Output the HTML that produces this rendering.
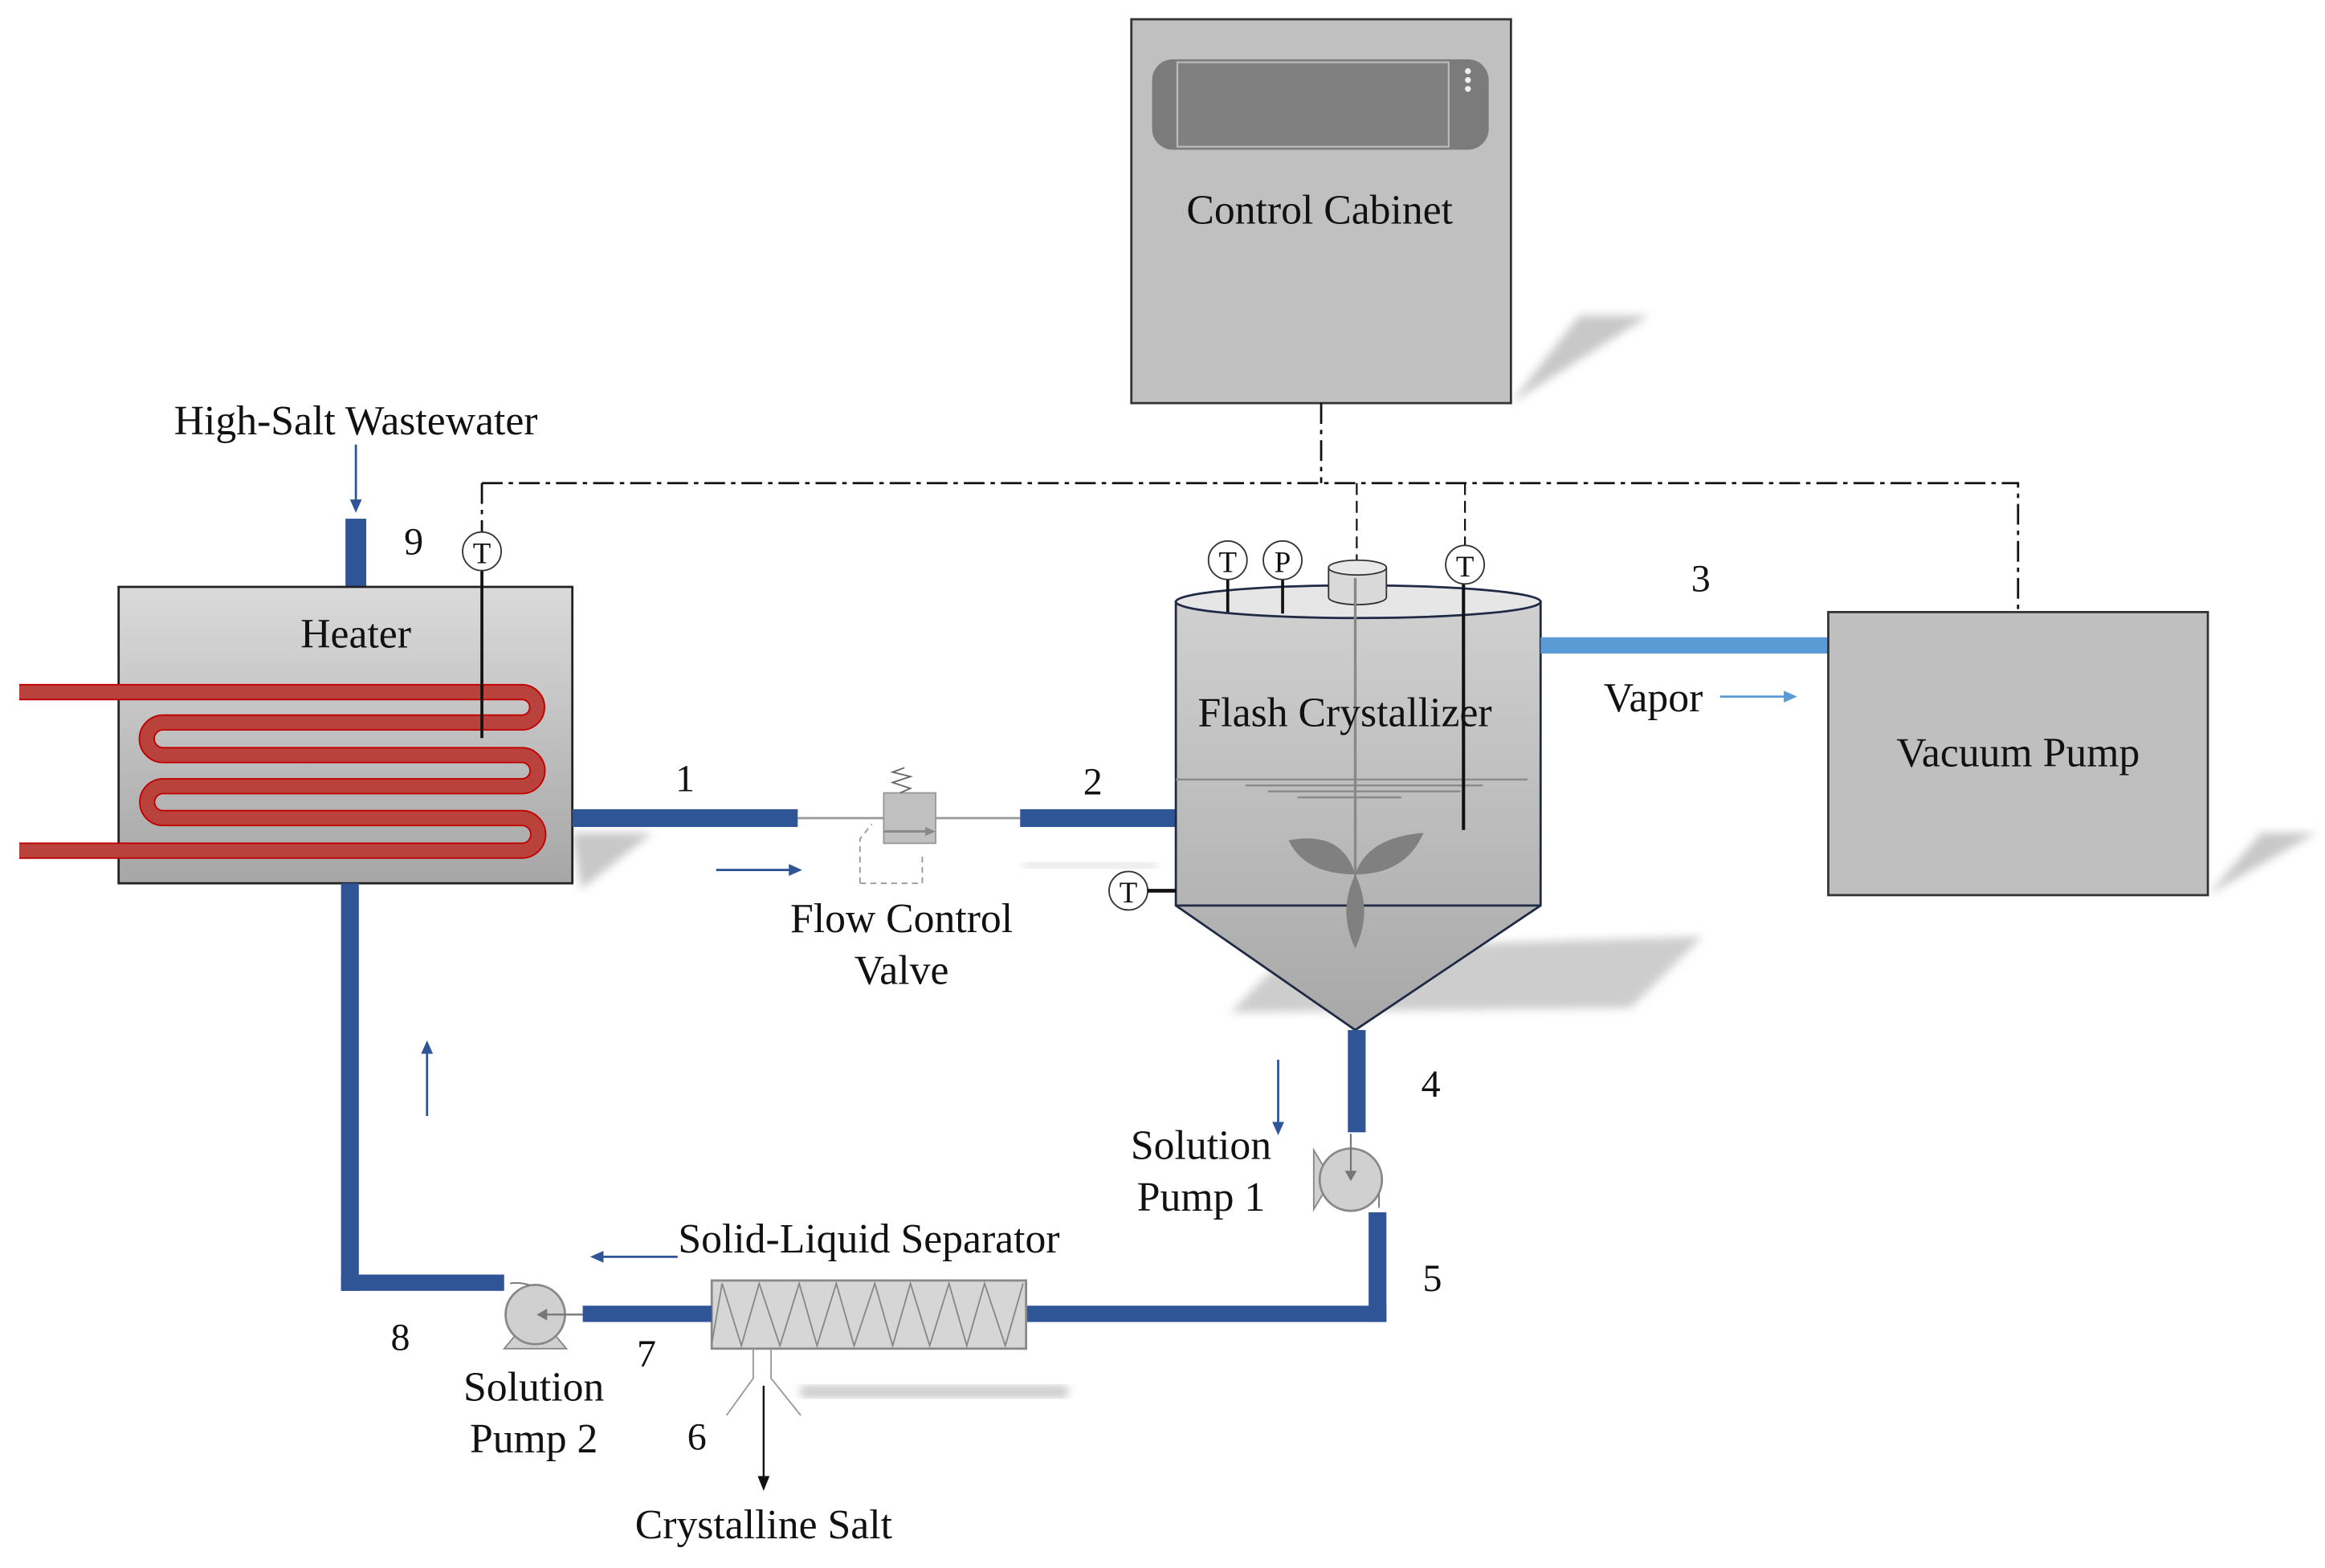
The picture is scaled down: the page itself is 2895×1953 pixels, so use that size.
<!DOCTYPE html>
<html><head><meta charset="utf-8"><style>html,body{margin:0;padding:0;background:#fff}svg{display:block}</style></head><body>
<svg width="2895" height="1953" viewBox="0 0 1568 1058" preserveAspectRatio="none" xmlns="http://www.w3.org/2000/svg">
<defs>
<linearGradient id="g1" x1="0" y1="0" x2="0" y2="1"><stop offset="0" stop-color="#dadada"/><stop offset="1" stop-color="#a6a6a6"/></linearGradient>
<linearGradient id="g2" x1="0" y1="0" x2="0" y2="1"><stop offset="0" stop-color="#d0d0d0"/><stop offset="1" stop-color="#a8a8a8"/></linearGradient>
<filter id="bl"><feGaussianBlur stdDeviation="3"/></filter>
</defs>
<polygon points="1019,272 1065,213 1112,213 1019,272" fill="#c8c8c8" filter="url(#bl)"/>
<polygon points="1489,604 1525,562 1562,562 1489,604" fill="#c8c8c8" filter="url(#bl)"/>
<polygon points="830,683 872,640 1148,632 1100,680" fill="#cdcdcd" filter="url(#bl)"/>
<polygon points="386,562 440,562 392,600" fill="#c8c8c8" filter="url(#bl)"/>
<rect x="540" y="935" width="180" height="8" fill="#c8c8c8" filter="url(#bl)"/>
<rect x="690" y="582" width="90" height="4" fill="#dcdcdc" filter="url(#bl)"/>

<rect x="763" y="13" width="256" height="259" fill="#c0c0c0" stroke="#333" stroke-width="1.5"/>
<rect x="777" y="40" width="227" height="61" rx="14" fill="#7b7b7b"/>
<rect x="794" y="42" width="183" height="57" fill="#808080" stroke="#bbb" stroke-width="1.2"/>
<circle cx="990" cy="48" r="2" fill="#eee"/><circle cx="990" cy="54" r="2" fill="#eee"/><circle cx="990" cy="60" r="2" fill="#eee"/>

<g stroke="#111" stroke-width="1.5" fill="none" stroke-dasharray="14,4,3,4">
<path d="M891,272 V326 M325,326 H1361 V413 M325,326 V360"/>
</g>
<g stroke="#111" stroke-width="1.2" fill="none" stroke-dasharray="8,4">
<path d="M915,326 V386 M988,326 V368"/>
</g>

<line x1="240" y1="300" x2="240" y2="338" stroke="#2f5597" stroke-width="1.5"/>
<polygon points="236,337 244,337 240,346" fill="#2f5597"/>
<rect x="233" y="350" width="14" height="46" fill="#2f5597"/>

<rect x="80" y="396" width="306" height="200" fill="url(#g1)" stroke="#222" stroke-width="1.5"/>
<path d="M13,467 H352 A10.25,10.25 0 0 1 352,487.5 H110 A11,11 0 0 0 110,509.5 H352 A10.5,10.5 0 0 1 352,530.5 H110 A10.75,10.75 0 0 0 110,552 H352 A11,11 0 0 1 352,574 H13" fill="none" stroke="#c00000" stroke-width="11"/>
<path d="M13,467 H352 A10.25,10.25 0 0 1 352,487.5 H110 A11,11 0 0 0 110,509.5 H352 A10.5,10.5 0 0 1 352,530.5 H110 A10.75,10.75 0 0 0 110,552 H352 A11,11 0 0 1 352,574 H13" fill="none" stroke="#b9433c" stroke-width="9"/>
<line x1="325" y1="384" x2="325" y2="498" stroke="#111" stroke-width="2"/>
<ellipse cx="325" cy="372" rx="13" ry="13" fill="#fff" stroke="#333"/>

<rect x="386" y="546" width="152" height="12" fill="#2f5597"/>
<line x1="538" y1="552" x2="596" y2="552" stroke="#999" stroke-width="1.5"/>
<line x1="631" y1="552" x2="688" y2="552" stroke="#999" stroke-width="1.5"/>
<path d="M580,596 V566 L588,556 M580,596 H622 V575" fill="none" stroke="#999" stroke-width="1" stroke-dasharray="4,3"/>
<rect x="596" y="535" width="35" height="34" fill="#c0c0c0" stroke="#999"/>
<line x1="596" y1="561" x2="628" y2="561" stroke="#888" stroke-width="1.5"/>
<polygon points="624,558 631,561 624,564" fill="#888"/>
<polyline points="607,535 614,532 602,528 614,524 602,521 610,518" fill="none" stroke="#666" stroke-width="1"/>
<rect x="688" y="546" width="105" height="12" fill="#2f5597"/>
<line x1="483" y1="587" x2="533" y2="587" stroke="#2f5597" stroke-width="1.5"/>
<polygon points="532,583 541,587 532,591" fill="#2f5597"/>

<path d="M793,406 V611 L914,695 L1039,611 V406 Z" fill="url(#g2)" stroke="#1f2a44" stroke-width="1.5"/>
<line x1="793" y1="611" x2="1039" y2="611" stroke="#1f2a44" stroke-width="1.5"/>
<ellipse cx="916" cy="406" rx="123" ry="11" fill="#e6e6e6" stroke="#1f2a44" stroke-width="1.5"/>
<path d="M896,383 V403 A19.5,5 0 0 0 935,403 V383" fill="#d9d9d9" stroke="#333"/>
<ellipse cx="915.5" cy="383" rx="19.5" ry="5" fill="#e8e8e8" stroke="#333"/>
<g stroke="#8a8a8a" stroke-width="1.3">
<line x1="793" y1="526" x2="1030" y2="526"/>
<line x1="840" y1="530" x2="1000" y2="530"/>
<line x1="855" y1="534" x2="985" y2="534"/>
<line x1="875" y1="538" x2="945" y2="538"/>
</g>
<line x1="914" y1="390" x2="914" y2="595" stroke="#888" stroke-width="1.8"/>
<path d="M914,590 Q880,590 869,567 Q905,560 914,590 Z" fill="#808080"/>
<path d="M914,590 Q948,590 960,562 Q922,565 914,590 Z" fill="#808080"/>
<path d="M914,590 Q902,615 914,640 Q926,615 914,590 Z" fill="#808080"/>
<line x1="987" y1="392" x2="987" y2="560" stroke="#111" stroke-width="2.2"/>
<line x1="828" y1="390" x2="828" y2="413" stroke="#111" stroke-width="2"/>
<line x1="865" y1="390" x2="865" y2="414" stroke="#111" stroke-width="2"/>
<g fill="#fff" stroke="#333">
<ellipse cx="828" cy="378" rx="13" ry="13"/><ellipse cx="865" cy="378" rx="13" ry="13"/><ellipse cx="988" cy="381" rx="13" ry="13"/><ellipse cx="761" cy="601" rx="13" ry="13"/>
</g>
<line x1="774" y1="601" x2="793" y2="601" stroke="#111" stroke-width="2.5"/>

<rect x="1039" y="430" width="194" height="11" fill="#5b9bd5"/>
<line x1="1160" y1="470" x2="1205" y2="470" stroke="#5b9bd5" stroke-width="1.5"/>
<polygon points="1203,466 1212,470 1203,474" fill="#5b9bd5"/>
<rect x="1233" y="413" width="256" height="191" fill="#bfbfbf" stroke="#333" stroke-width="1.5"/>

<rect x="909" y="695" width="12" height="69" fill="#2f5597"/>
<line x1="862" y1="715" x2="862" y2="759" stroke="#2f5597" stroke-width="1.5"/>
<polygon points="858,757 866,757 862,766" fill="#2f5597"/>
<polygon points="886,776 898,796 886,816" fill="#d0d0d0" stroke="#888"/>
<ellipse cx="911" cy="796" rx="21" ry="21" fill="#d0d0d0" stroke="#888" stroke-width="1.5"/>
<line x1="911" y1="765" x2="911" y2="793" stroke="#777" stroke-width="1.2"/>
<polygon points="907,790 915,790 911,797" fill="#777"/>
<line x1="930" y1="805" x2="930" y2="815" stroke="#777"/>
<rect x="923" y="818" width="12" height="74" fill="#2f5597"/>
<rect x="692" y="881" width="243" height="11" fill="#2f5597"/>

<rect x="480" y="864" width="212" height="46" fill="#d6d6d6" stroke="#888" stroke-width="1.5"/>
<polyline points="480,907 487,866 500,908 512,866 526,908 539,866 551,908 564,866 576,908 590,866 602,908 614,866 627,908 640,866 652,908 664,866 678,908 690,866" fill="none" stroke="#888" stroke-width="1"/>
<path d="M508,910 V930 L490,955 M520,910 V930 L540,955" fill="none" stroke="#999" stroke-width="1"/>
<line x1="515" y1="935" x2="515" y2="998" stroke="#111" stroke-width="1.3"/>
<polygon points="511,996 519,996 515,1006" fill="#111"/>
<line x1="405" y1="848" x2="457" y2="848" stroke="#2f5597" stroke-width="1.5"/>
<polygon points="407,844 398,848 407,852" fill="#2f5597"/>

<rect x="393" y="881" width="87" height="11" fill="#2f5597"/>
<polygon points="340,910 350,898 372,898 382,910" fill="#d0d0d0" stroke="#888"/>
<ellipse cx="361" cy="887" rx="20" ry="20" fill="#d0d0d0" stroke="#888" stroke-width="1.5"/>
<line x1="393" y1="887" x2="367" y2="887" stroke="#777" stroke-width="1.3"/>
<polygon points="369,883 362,887 369,891" fill="#777"/>
<path d="M357,867 Q350,865 344,866" fill="none" stroke="#777"/>
<rect x="230" y="860" width="110" height="11" fill="#2f5597"/>
<rect x="230" y="596" width="12" height="275" fill="#2f5597"/>
<line x1="288" y1="753" x2="288" y2="710" stroke="#2f5597" stroke-width="1.5"/>
<polygon points="284,711 292,711 288,702" fill="#2f5597"/>

<g font-family="'Liberation Serif', 'Times New Roman', serif" fill="#111" text-anchor="middle">
<text x="890" y="151" font-size="28">Control Cabinet</text>
<text x="240" y="293" font-size="28">High-Salt Wastewater</text>
<text x="279" y="374" font-size="26">9</text>
<text x="240" y="437" font-size="28">Heater</text>
<text x="325" y="380" font-size="20">T</text>
<text x="462" y="534" font-size="26">1</text>
<text x="737" y="536" font-size="26">2</text>
<text x="608" y="629" font-size="28">Flow Control</text>
<text x="608" y="664" font-size="28">Valve</text>
<text x="907" y="490" font-size="28">Flash Crystallizer</text>
<text x="828" y="386" font-size="20">T</text>
<text x="865" y="386" font-size="20">P</text>
<text x="988" y="389" font-size="20">T</text>
<text x="761" y="609" font-size="20">T</text>
<text x="1147" y="399" font-size="26">3</text>
<text x="1115" y="480" font-size="28">Vapor</text>
<text x="1361" y="517" font-size="28">Vacuum Pump</text>
<text x="965" y="740" font-size="26">4</text>
<text x="810" y="782" font-size="28">Solution</text>
<text x="810" y="817" font-size="28">Pump 1</text>
<text x="966" y="871" font-size="26">5</text>
<text x="470" y="978" font-size="26">6</text>
<text x="515" y="1038" font-size="28">Crystalline Salt</text>
<text x="586" y="845" font-size="28">Solid-Liquid Separator</text>
<text x="436" y="922" font-size="26">7</text>
<text x="360" y="945" font-size="28">Solution</text>
<text x="360" y="980" font-size="28">Pump 2</text>
<text x="270" y="911" font-size="26">8</text>
</g>
</svg>
</body></html>
